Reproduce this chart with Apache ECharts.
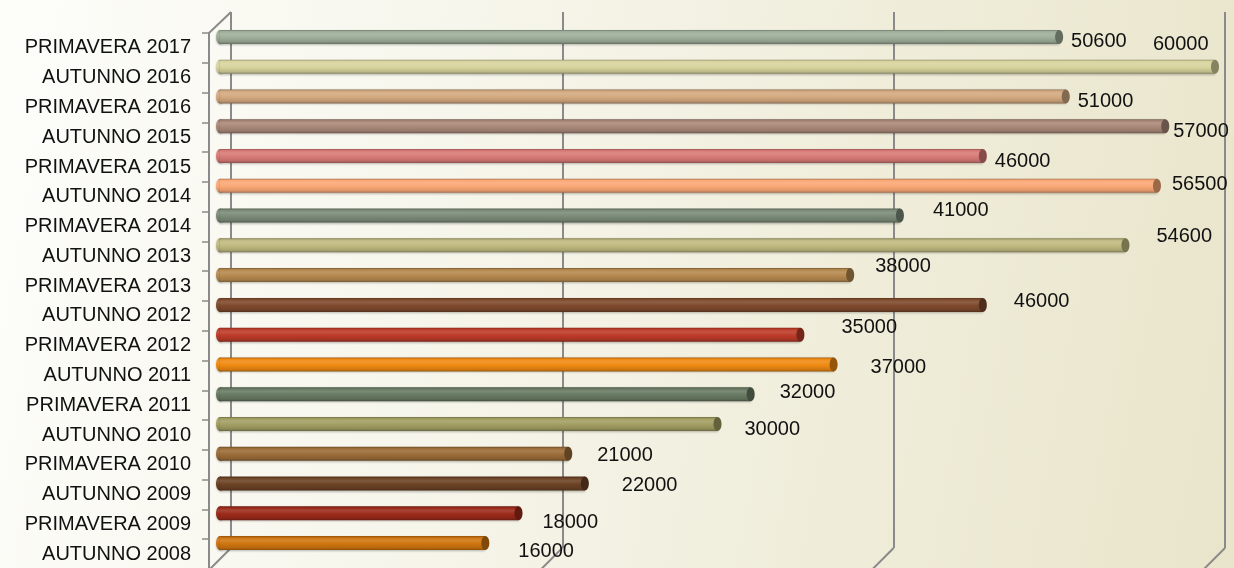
<!DOCTYPE html>
<html>
<head>
<meta charset="utf-8">
<script src="https://cdn.jsdelivr.net/npm/echarts@6/dist/echarts.min.js"></script>
<style>
  html, body { margin: 0; padding: 0; }
  #chart {
    width: 1234px; height: 568px;
    background: linear-gradient(100deg, #fdfdfa 0%, #f7f6ec 35%, #efecd9 70%, #e9e5cb 100%);
  }
</style>
</head>
<body>
<div id="chart"></div>
<script>
// ---- data (bottom to top) ----
const categories = [
  'AUTUNNO 2008', 'PRIMAVERA 2009', 'AUTUNNO 2009', 'PRIMAVERA 2010',
  'AUTUNNO 2010', 'PRIMAVERA 2011', 'AUTUNNO 2011', 'PRIMAVERA 2012',
  'AUTUNNO 2012', 'PRIMAVERA 2013', 'AUTUNNO 2013', 'PRIMAVERA 2014',
  'AUTUNNO 2014', 'PRIMAVERA 2015', 'AUTUNNO 2015', 'PRIMAVERA 2016',
  'AUTUNNO 2016', 'PRIMAVERA 2017'
];
const values = [
  16000, 18000, 22000, 21000, 30000, 32000, 37000, 35000, 46000,
  38000, 54600, 41000, 56500, 46000, 57000, 51000, 60000, 50600
];
const tickValues = [0, 20000, 40000, 60000];

// ---- styles ----
const barColors = [
  '#cf7510', '#9c2a1a', '#6c4224', '#9b6c38', '#a29e62', '#687a62',
  '#f08a12', '#bd3b29', '#7f4a2c', '#b5894f', '#bfb97f', '#7b8b78',
  '#fba876', '#d87a76', '#a98878', '#d3a97f', '#d8d49e', '#9eae9a'
];
// label nudges relative to default "right of bar end" placement
const labelNudge = [
  [24, 8], [15, 9], [28, 2], [20, 2], [18, 5], [20, -2], [28, 3], [32, -7],
  [22, -3], [16, -9], [22, -9], [24, -5], [6, -1], [3, 5], [-1, 5], [3, 5],
  [-71, -22], [3, 5]
];
const FONT = '"Liberation Sans", Arial, sans-serif';
const GRID_COLOR = '#8a8a8a';
const DEPTH = 22;

function shade(hex, f) {
  const n = parseInt(hex.slice(1), 16);
  let r = (n >> 16) & 255, g = (n >> 8) & 255, b = n & 255;
  const m = (c) => {
    c = f >= 1 ? c + (255 - c) * (f - 1) : c * f;
    return Math.max(0, Math.min(255, Math.round(c)));
  };
  return 'rgb(' + m(r) + ',' + m(g) + ',' + m(b) + ')';
}

const chart = echarts.init(document.getElementById('chart'), null, { renderer: 'canvas' });

const option = {
  backgroundColor: 'transparent',
  animation: false,
  grid: [
    { left: 209, top: 33, width: 995, height: 536, outerBoundsMode: 'none' },   // front plane
    { left: 231, top: 12, width: 994, height: 536, outerBoundsMode: 'none' },   // back wall
    { left: 220, top: 22, width: 995, height: 536, outerBoundsMode: 'none' }    // bars (mid depth)
  ],
  xAxis: [
    { gridIndex: 0, type: 'value', min: 0, max: 60000, interval: 20000, show: false },
    { gridIndex: 1, type: 'value', min: 0, max: 60000, interval: 20000,
      axisLine: { show: false }, axisTick: { show: false }, axisLabel: { show: false },
      splitLine: { show: true, lineStyle: { color: GRID_COLOR, width: 2 } } },
    { gridIndex: 2, type: 'value', min: 0, max: 60000, interval: 20000, show: false }
  ],
  yAxis: [
    { gridIndex: 0, type: 'category', data: categories,
      axisLine: { show: true, lineStyle: { color: GRID_COLOR, width: 2 } },
      axisTick: { show: true, length: 7, lineStyle: { color: GRID_COLOR, width: 1.5 } },
      splitLine: { show: false },
      axisLabel: { color: '#111', fontFamily: FONT, fontSize: 20, margin: 18 } },
    { gridIndex: 1, type: 'value', min: 0, max: 1, show: false },
    { gridIndex: 2, type: 'category', data: categories, show: false }
  ],
  series: [
    {
      // depth lines (floor edges and top-left edge)
      type: 'custom',
      xAxisIndex: 1, yAxisIndex: 1,
      silent: true,
      data: tickValues.map(v => [v]),
      renderItem: function (params, api) {
        const v = api.value(0);
        const pb = api.coord([v, 0]);
        const children = [{
          type: 'line',
          shape: { x1: pb[0], y1: pb[1], x2: pb[0] - DEPTH, y2: pb[1] + DEPTH },
          style: { stroke: GRID_COLOR, lineWidth: 2 }
        }];
        if (v === 0) {
          const pt = api.coord([0, 1]);
          children.push({
            type: 'line',
            shape: { x1: pt[0], y1: pt[1], x2: pt[0] - DEPTH, y2: pt[1] + 21 },
            style: { stroke: GRID_COLOR, lineWidth: 2 }
          });
        }
        return { type: 'group', children: children };
      }
    },
    {
      // cylinders
      type: 'custom',
      xAxisIndex: 2, yAxisIndex: 2,
      data: values.map((v, i) => [v, i]),
      encode: { x: 0, y: 1 },
      renderItem: function (params, api) {
        const i = params.dataIndex;
        const v = api.value(0);
        const c0 = api.coord([0, i]);
        const c1 = api.coord([v, i]);
        const h = 14, rx = 4;
        const col = barColors[i];
        const grad = new echarts.graphic.LinearGradient(0, 0, 0, 1, [
          { offset: 0, color: shade(col, 0.7) },
          { offset: 0.12, color: shade(col, 1.0) },
          { offset: 0.3, color: shade(col, 1.12) },
          { offset: 0.55, color: shade(col, 1.0) },
          { offset: 0.85, color: shade(col, 0.88) },
          { offset: 1, color: shade(col, 0.65) }
        ]);
        const y = c0[1] - h / 2;
        const nudge = labelNudge[i];
        return {
          type: 'group',
          children: [
            { type: 'ellipse', shape: { cx: c0[0], cy: c0[1], rx: rx, ry: h / 2 },
              style: { fill: grad, shadowBlur: 2, shadowColor: 'rgba(0,0,0,0.25)', shadowOffsetY: 1 } },
            { type: 'rect', shape: { x: c0[0], y: y, width: c1[0] - c0[0], height: h },
              style: { fill: grad, shadowBlur: 2, shadowColor: 'rgba(0,0,0,0.25)', shadowOffsetY: 1 } },
            { type: 'ellipse', shape: { cx: c1[0], cy: c1[1], rx: rx, ry: h / 2 },
              style: { fill: shade(col, 0.62) } },
            { type: 'text',
              x: c1[0] + rx + 5 + nudge[0], y: c1[1] + nudge[1],
              style: { text: String(v), fill: '#111', font: '20px ' + FONT,
                       textAlign: 'left', textVerticalAlign: 'middle' } }
          ]
        };
      }
    }
  ]
};
chart.setOption(option);
</script>
</body>
</html>
